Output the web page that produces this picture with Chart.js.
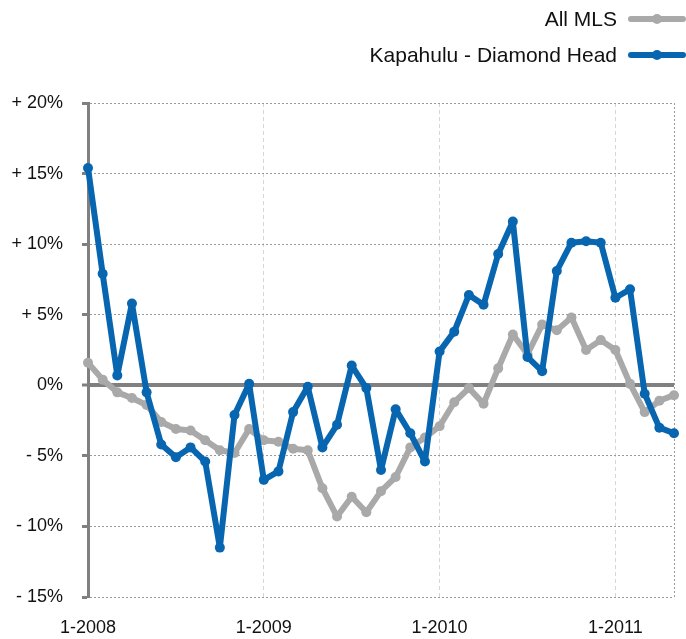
<!DOCTYPE html>
<html>
<head>
<meta charset="utf-8">
<title>Kapahulu - Diamond Head vs All MLS</title>
<script src="https://cdn.jsdelivr.net/npm/chart.js@4.4.1/dist/chart.umd.min.js"></script>
<style>
  html, body { margin: 0; padding: 0; background: #fff; }
  #wrap { width: 686px; height: 639px; }
</style>
</head>
<body>
<div id="wrap"><canvas id="chart" width="686" height="639"></canvas></div>
<script>
// ===============================
// Data
// ===============================
const months = [
  '1-2008','2-2008','3-2008','4-2008','5-2008','6-2008','7-2008','8-2008','9-2008','10-2008','11-2008','12-2008',
  '1-2009','2-2009','3-2009','4-2009','5-2009','6-2009','7-2009','8-2009','9-2009','10-2009','11-2009','12-2009',
  '1-2010','2-2010','3-2010','4-2010','5-2010','6-2010','7-2010','8-2010','9-2010','10-2010','11-2010','12-2010',
  '1-2011','2-2011','3-2011','4-2011','5-2011'
];

const allMls = [
  1.6, 0.4, -0.5, -0.9, -1.4, -2.6, -3.1, -3.2, -3.9, -4.6, -4.8, -3.1,
  -3.9, -4.0, -4.5, -4.6, -7.3, -9.3, -7.9, -9.0, -7.5, -6.5, -4.4, -3.7,
  -2.9, -1.2, -0.2, -1.3, 1.2, 3.6, 2.2, 4.3, 3.9, 4.8, 2.5, 3.2,
  2.5, 0.1, -1.9, -1.1, -0.7
];

const kapahulu = [
  15.4, 7.9, 0.7, 5.8, -0.5, -4.2, -5.1, -4.4, -5.4, -11.5, -2.1, 0.1,
  -6.7, -6.1, -1.9, -0.1, -4.4, -2.8, 1.4, -0.2, -6.0, -1.7, -3.4, -5.4,
  2.4, 3.8, 6.4, 5.7, 9.3, 11.6, 2.0, 1.0, 8.1, 10.1, 10.2, 10.1,
  6.2, 6.8, -0.6, -3.0, -3.4
];

const seriesNames = ['All MLS', 'Kapahulu - Diamond Head'];
const yTicks = [-15, -10, -5, 0, 5, 10, 15, 20];

const GRAY = '#a9a9a9';
const BLUE = '#0866b0';
const AXIS = '#808080';
const FONT = '"Liberation Sans", Arial, Helvetica, sans-serif';

// ===============================
// Legend drawn at top right (text, then line sample)
// ===============================
const rightLegend = {
  id: 'rightLegend',
  afterDraw(chart) {
    const ctx = chart.ctx;
    ctx.save();
    ctx.font = '21px ' + FONT;
    ctx.textAlign = 'right';
    ctx.textBaseline = 'middle';
    chart.data.datasets.forEach((ds, i) => {
      const y = 19 + i * 36;
      ctx.fillStyle = '#111';
      ctx.fillText(ds.label, 617, y + 1);
      ctx.strokeStyle = ds.borderColor;
      ctx.lineWidth = 6;
      ctx.lineCap = 'round';
      ctx.beginPath();
      ctx.moveTo(631, y);
      ctx.lineTo(683, y);
      ctx.stroke();
      ctx.fillStyle = ds.borderColor;
      ctx.beginPath();
      ctx.arc(657, y, 5, 0, Math.PI * 2);
      ctx.fill();
    });
    ctx.restore();
  }
};

new Chart(document.getElementById('chart'), {
  type: 'line',
  data: {
    labels: months,
    datasets: [
      {
        label: seriesNames[0],
        data: allMls,
        borderColor: GRAY,
        backgroundColor: GRAY,
        borderWidth: 6,
        borderJoinStyle: 'round',
        borderCapStyle: 'round',
        pointRadius: 5,
        pointBorderWidth: 0,
        tension: 0,
        order: 1
      },
      {
        label: seriesNames[1],
        data: kapahulu,
        borderColor: BLUE,
        backgroundColor: BLUE,
        borderWidth: 6,
        borderJoinStyle: 'round',
        borderCapStyle: 'round',
        pointRadius: 5,
        pointBorderWidth: 0,
        tension: 0,
        order: 0
      }
    ]
  },
  options: {
    responsive: false,
    animation: false,
    layout: { padding: { left: 0, right: 12, top: 103, bottom: 0 } },
    plugins: {
      legend: { display: false },
      tooltip: { enabled: false }
    },
    scales: {
      x: {
        type: 'category',
        offset: false,
        afterFit: s => { s.height = 42; s.paddingRight = 0; s.paddingLeft = 0; },
        border: {
          display: false,
          dash: c => (c.tick && c.index === months.length - 1) ? [2, 2] : [4, 3]
        },
        grid: {
          drawTicks: false,
          lineWidth: 1,
          color: c => {
            if (!c.tick) return 'rgba(0,0,0,0)';
            if (c.index === months.length - 1) return '#999';
            if (c.index > 0 && c.index % 12 === 0) return '#d6d6d6';
            return 'rgba(0,0,0,0)';
          }
        },
        ticks: {
          autoSkip: false,
          maxRotation: 0,
          padding: 20,
          color: '#111',
          font: { family: FONT, size: 18 },
          callback: function (v, i) { return i % 12 === 0 ? months[i] : ''; }
        }
      },
      y: {
        min: -15,
        max: 20,
        afterFit: s => { s.width = 88; },
        afterBuildTicks: s => { s.ticks = yTicks.map(v => ({ value: v })); },
        border: {
          display: true,
          color: AXIS,
          width: 3,
          dash: c => (c.tick && c.tick.value === 0) ? [] : [2, 2]
        },
        grid: {
          drawTicks: true,
          tickLength: 6,
          tickWidth: 3,
          tickColor: AXIS,
          tickBorderDash: [],
          color: c => (c.tick && c.tick.value === 0) ? AXIS : '#9a9a9a',
          lineWidth: c => (c.tick && c.tick.value === 0) ? 4 : 1
        },
        ticks: {
          padding: 19,
          color: '#111',
          font: { family: FONT, size: 18 },
          callback: v => v > 0 ? '+ ' + v + '%' : (v < 0 ? '- ' + (-v) + '%' : '0%')
        }
      }
    }
  },
  plugins: [rightLegend]
});
</script>
</body>
</html>
